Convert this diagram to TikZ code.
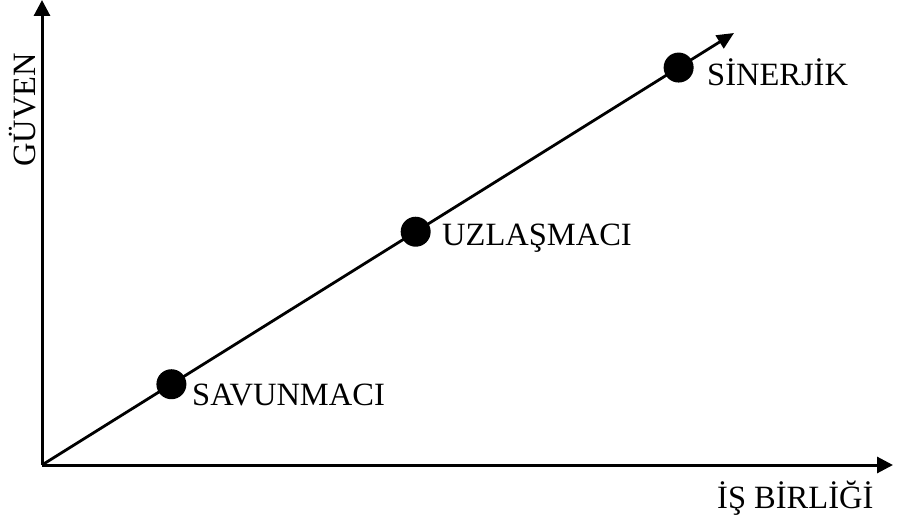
\documentclass[tikz,border=0pt]{standalone}
\usepackage{fontspec}
\setmainfont{Liberation Serif}
\usetikzlibrary{arrows.meta,calc}
\begin{document}
\begin{tikzpicture}[x=1pt,y=-1pt,
  axis/.style={line width=3pt,-{Triangle[length=16pt,width=16pt]}},
  diag/.style={line width=2.8pt,-{Triangle[length=17pt,width=15pt]}},
  dot/.style={circle,fill=black,inner sep=0pt,minimum size=30pt},
  lbl/.style={font=\fontsize{32.5}{36}\selectfont,inner sep=0pt,anchor=base west}]
\useasboundingbox (0,0) rectangle (906,519);
\coordinate (o) at (42,465);
\coordinate (ytop) at (42,0);
\coordinate (xend) at (893,465);
\coordinate (dend) at (734,33);
\draw[axis] (o) -- (ytop);
\draw[axis] (o) -- (xend);
\draw[diag] (o) -- (dend);
\node[dot] (d1) at ($(o)!0.187!(dend)$) {};
\node[dot] (d2) at ($(o)!0.54!(dend)$) {};
\node[dot] (d3) at ($(o)!0.92!(dend)$) {};
\node[lbl] (l1) at (192,405) {SAVUNMACI};
\node[lbl] (l2) at (442,245) {UZLAŞMACI};
\node[lbl] (l3) at (707,85) {SİNERJİK};
\node[lbl] (lx) at (717,508) {İŞ BİRLİĞİ};
\node[lbl,rotate=90] (ly) at (35,167) {GÜVEN};
\end{tikzpicture}
\end{document}
